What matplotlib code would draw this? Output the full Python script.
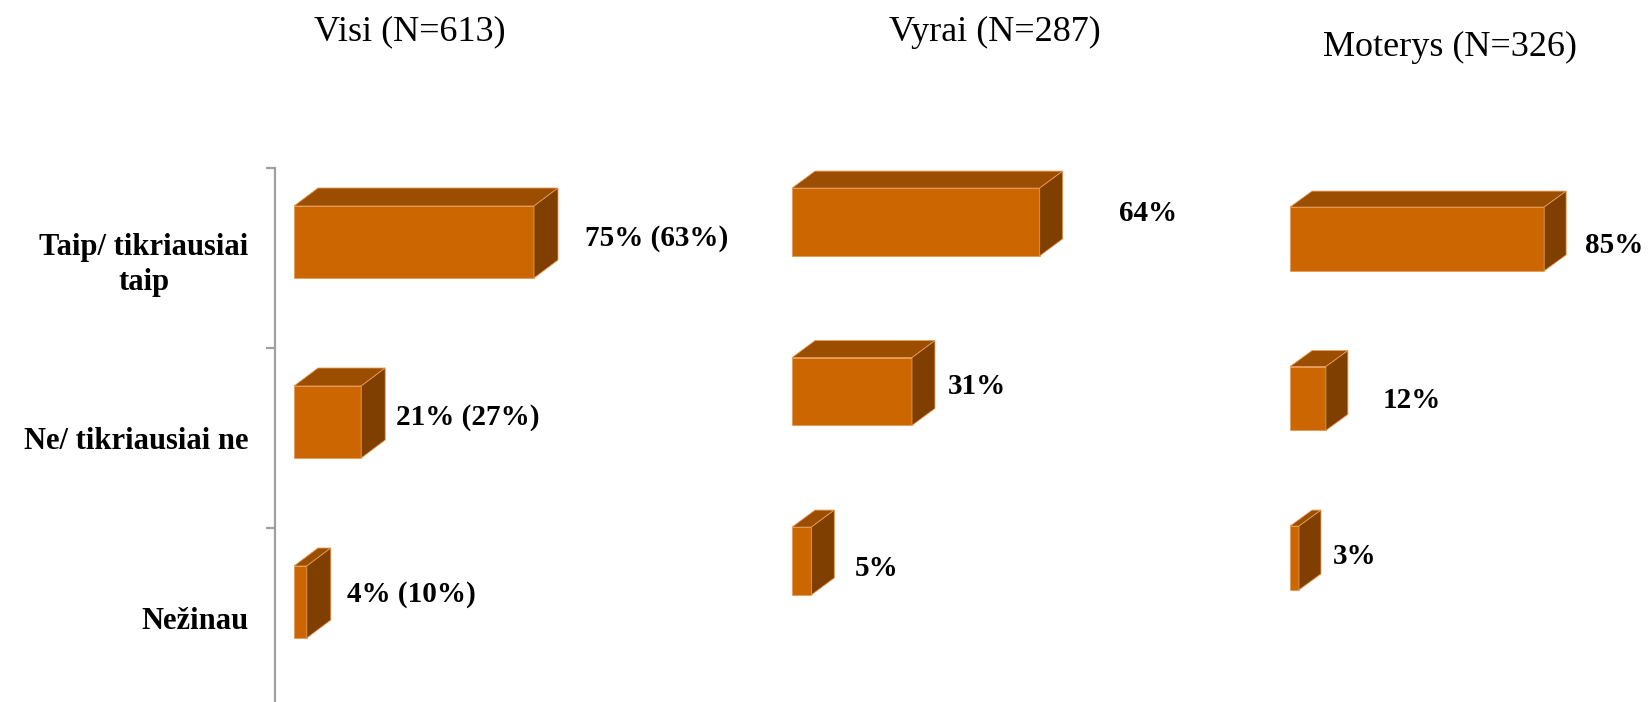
import matplotlib.pyplot as plt
from matplotlib.patches import Polygon

categories = ["Taip/ tikriausiai\ntaip", "Ne/ tikriausiai ne", "Nežinau"]
titles = ["Visi (N=613)", "Vyrai (N=287)", "Moterys (N=326)"]
visi = [75, 21, 4]
visi_labels = ["75% (63%)", "21% (27%)", "4% (10%)"]
vyrai = [64, 31, 5]
vyrai_labels = ["64%", "31%", "5%"]
moterys = [85, 12, 3]
moterys_labels = ["85%", "12%", "3%"]

W, H = 1648, 702
FRONT = "#CC6600"
TOP = "#9C4E00"
SIDE = "#7E3F00"
EDGE = "#E59A55"

plt.rcParams['font.family'] = ['Liberation Serif', 'DejaVu Serif']

fig = plt.figure(figsize=(W / 100, H / 100), dpi=100)

# layout in pixels: x of bar start, px per percent, first front-face centre, band spacing, depth
panels = [
    dict(x0=294, sx=3.2, y0=242, sp=180, depth=(24, 18), axis=True,
         nudge=[(27, -4), (11, -5), (16, -7)]),
    dict(x0=792, sx=3.87, y0=222, sp=169.5, depth=(23, 17), axis=False,
         nudge=[(56, -9), (13, -5), (20, 8)]),
    dict(x0=1290, sx=2.99, y0=239, sp=159.5, depth=(22, 16), axis=False,
         nudge=[(19, 6), (35, 2), (12, -1)]),
]
series = [(visi, visi_labels), (vyrai, vyrai_labels), (moterys, moterys_labels)]
title_pos = [(410, 32), (995, 32), (1450, 47)]

off = 0.09   # front face sits a bit above band centre
bh = 0.40    # front face height (band units)
xmin, xmax = -6, 100

for p, (vals, labs), title, tp in zip(panels, series, titles, title_pos):
    left = p['x0'] + xmin * p['sx']
    width = (xmax - xmin) * p['sx']
    top = p['y0'] + off * p['sp'] - 0.5 * p['sp']
    height = 3 * p['sp']
    ax = fig.add_axes([left / W, (H - top - height) / H, width / W, height / H])
    ax.set_xlim(xmin, xmax)
    ax.set_ylim(2.5, -0.5)
    ax.patch.set_alpha(0)
    for s in ['top', 'right', 'bottom']:
        ax.spines[s].set_visible(False)
    ax.set_xticks([])

    dxd = p['depth'][0] / p['sx']
    dyd = p['depth'][1] / p['sp']
    ys = [i - off for i in range(len(vals))]
    ax.barh(ys, vals, height=bh, left=0, color=FRONT, edgecolor=EDGE, linewidth=0.6, zorder=3)
    for y, v, lab, (nx, ny) in zip(ys, vals, labs, p['nudge']):
        yt, yb = y - bh / 2, y + bh / 2
        ax.add_patch(Polygon([(0, yt), (v, yt), (v + dxd, yt - dyd), (dxd, yt - dyd)],
                             closed=True, facecolor=TOP, edgecolor=EDGE, linewidth=0.6, zorder=3))
        ax.add_patch(Polygon([(v, yt), (v + dxd, yt - dyd), (v + dxd, yb - dyd), (v, yb)],
                             closed=True, facecolor=SIDE, edgecolor=EDGE, linewidth=0.6, zorder=3))
        ax.text(v + (p['depth'][0] + nx) / p['sx'], y + ny / p['sp'], lab,
                fontsize=21, fontweight='bold', ha='left', va='center', zorder=4)

    if p['axis']:
        ax.spines['left'].set_color('#A0A0A0')
        ax.spines['left'].set_linewidth(1.6)
        ax.set_yticks(range(len(categories)))
        ax.set_yticklabels(categories, fontsize=22, fontweight='bold',
                           multialignment='center', linespacing=1.3)
        ax.tick_params(axis='y', which='major', length=0, pad=19)
        ax.set_yticks([-0.5, 0.5, 1.5, 2.5], minor=True)
        ax.tick_params(axis='y', which='minor', length=6.5, width=1.6, color='#A0A0A0')
    else:
        ax.spines['left'].set_visible(False)
        ax.set_yticks([])

    fig.text(tp[0] / W, 1 - tp[1] / H, title, fontsize=26, ha='center', va='center')

fig.savefig("out.png", dpi=100)
